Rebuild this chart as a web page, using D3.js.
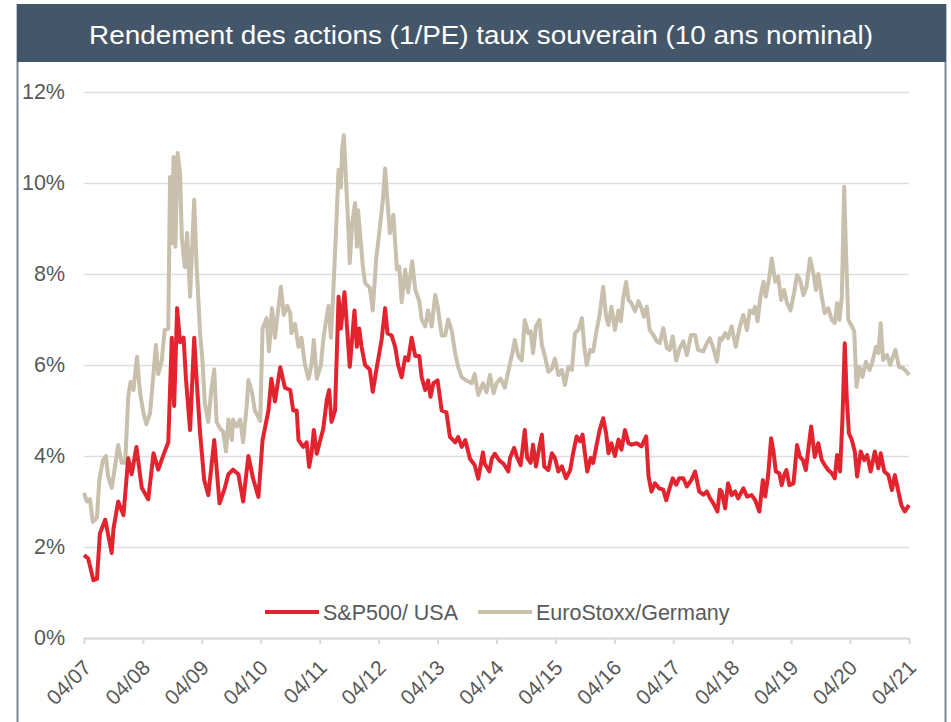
<!DOCTYPE html>
<html>
<head>
<meta charset="utf-8">
<script src="https://cdn.jsdelivr.net/npm/d3@7"></script>
<style>
  body { margin: 0; background: #fff; }
  text { font-family: "Liberation Sans", Arial, sans-serif; }
</style>
</head>
<body>
<div class="chart"></div>
<script>
// chart title and series names
var title = "Rendement des actions (1/PE) taux souverain (10 ans nominal)";
var seriesNames = ["S&P500/ USA", "EuroStoxx/Germany"];

// x ticks (April of each year) and their labels
var tickYears = [2007.25, 2008.25, 2009.25, 2010.25, 2011.25, 2012.25, 2013.25,
  2014.25, 2015.25, 2016.25, 2017.25, 2018.25, 2019.25, 2020.25, 2021.25];
var tickLabels = ["04/07", "04/08", "04/09", "04/10", "04/11", "04/12", "04/13",
  "04/14", "04/15", "04/16", "04/17", "04/18", "04/19", "04/20", "04/21"];
var yTicks = [0, 2, 4, 6, 8, 10, 12];

// S&P500 / USA (decimal year, %)
var spxTime = [2007.25, 2007.32, 2007.41, 2007.47, 2007.52, 2007.61, 2007.72, 2007.75, 2007.83, 2007.92,
  2008.00, 2008.06, 2008.14, 2008.23, 2008.34, 2008.43, 2008.51, 2008.62, 2008.68, 2008.74,
  2008.78, 2008.83, 2008.88, 2008.94, 2008.98, 2009.05, 2009.12, 2009.16, 2009.22, 2009.29,
  2009.36, 2009.46, 2009.55, 2009.64, 2009.70, 2009.78, 2009.87, 2009.95, 2010.04, 2010.12,
  2010.21, 2010.28, 2010.38, 2010.43, 2010.49, 2010.58, 2010.66, 2010.75, 2010.80, 2010.86,
  2010.89, 2010.97, 2011.03, 2011.07, 2011.11, 2011.15, 2011.20, 2011.25, 2011.31, 2011.37,
  2011.41, 2011.45, 2011.51, 2011.57, 2011.61, 2011.67, 2011.72, 2011.76, 2011.84, 2011.88,
  2011.92, 2011.96, 2012.02, 2012.10, 2012.15, 2012.22, 2012.30, 2012.36, 2012.40, 2012.47,
  2012.53, 2012.58, 2012.64, 2012.70, 2012.75, 2012.81, 2012.87, 2012.94, 2012.98, 2013.04,
  2013.09, 2013.13, 2013.18, 2013.25, 2013.32, 2013.40, 2013.46, 2013.55, 2013.60, 2013.66,
  2013.72, 2013.80, 2013.88, 2013.94, 2014.02, 2014.05, 2014.13, 2014.17, 2014.22, 2014.30,
  2014.37, 2014.45, 2014.48, 2014.55, 2014.59, 2014.66, 2014.73, 2014.77, 2014.83, 2014.87,
  2014.92, 2014.98, 2015.02, 2015.06, 2015.13, 2015.19, 2015.24, 2015.30, 2015.36, 2015.43,
  2015.50, 2015.55, 2015.61, 2015.67, 2015.71, 2015.75, 2015.79, 2015.85, 2015.89, 2015.95,
  2016.00, 2016.06, 2016.11, 2016.15, 2016.20, 2016.26, 2016.32, 2016.37, 2016.43, 2016.49,
  2016.54, 2016.63, 2016.71, 2016.79, 2016.83, 2016.88, 2016.94, 2017.01, 2017.08, 2017.13,
  2017.18, 2017.24, 2017.30, 2017.35, 2017.42, 2017.48, 2017.56, 2017.62, 2017.69, 2017.76,
  2017.82, 2017.87, 2017.93, 2018.00, 2018.04, 2018.07, 2018.13, 2018.18, 2018.24, 2018.30,
  2018.35, 2018.44, 2018.50, 2018.58, 2018.64, 2018.71, 2018.77, 2018.81, 2018.86, 2018.91,
  2018.95, 2018.99, 2019.05, 2019.09, 2019.13, 2019.17, 2019.22, 2019.29, 2019.35, 2019.40,
  2019.45, 2019.50, 2019.54, 2019.59, 2019.65, 2019.71, 2019.77, 2019.82, 2019.88, 2019.94,
  2019.99, 2020.03, 2020.08, 2020.12, 2020.16, 2020.19, 2020.23, 2020.28, 2020.33, 2020.37,
  2020.43, 2020.49, 2020.54, 2020.60, 2020.67, 2020.73, 2020.77, 2020.83, 2020.90, 2020.96,
  2021.01, 2021.07, 2021.12, 2021.18, 2021.25];
var spxValues = [1.82, 1.75, 1.27, 1.30, 2.30, 2.60, 1.87, 2.40, 3.00, 2.70,
  3.95, 3.60, 4.20, 3.30, 3.05, 4.06, 3.70, 4.10, 4.30, 6.60,
  5.10, 7.25, 6.50, 6.60, 5.70, 4.57, 6.60, 5.70, 4.50, 3.47,
  3.14, 4.35, 2.96, 3.30, 3.60, 3.70, 3.60, 3.00, 4.00, 3.50,
  3.10, 4.35, 5.00, 5.70, 5.20, 5.95, 5.50, 5.45, 5.00, 5.00,
  4.35, 4.20, 4.30, 3.76, 4.05, 4.57, 4.05, 4.30, 4.60, 5.23,
  5.45, 4.75, 5.00, 7.50, 6.80, 7.60, 6.70, 5.96, 7.20, 6.40,
  6.80, 6.40, 6.00, 5.90, 5.41, 5.96, 6.55, 7.25, 6.70, 6.65,
  6.40, 6.00, 5.73, 6.17, 6.10, 6.60, 6.20, 6.20, 5.73, 5.45,
  5.66, 5.30, 5.60, 5.66, 5.00, 4.96, 4.42, 4.30, 4.42, 4.20,
  4.35, 3.94, 3.80, 3.50, 4.08, 3.83, 3.66, 3.94, 4.05, 3.90,
  3.83, 3.66, 3.96, 4.18, 4.00, 3.80, 4.57, 3.96, 3.85, 4.25,
  3.77, 4.21, 4.47, 3.77, 3.69, 4.06, 3.96, 3.66, 3.77, 3.51,
  3.69, 4.06, 4.43, 4.32, 4.47, 4.06, 3.66, 3.96, 3.85, 4.25,
  4.57, 4.83, 4.50, 4.06, 4.28, 4.00, 4.36, 4.14, 4.57, 4.28,
  4.25, 4.28, 4.21, 4.43, 3.55, 3.22, 3.40, 3.29, 3.26, 3.03,
  3.26, 3.51, 3.37, 3.51, 3.51, 3.33, 3.48, 3.66, 3.22, 3.15,
  3.22, 3.08, 2.96, 2.78, 3.26, 3.22, 2.85, 3.40, 3.14, 3.22,
  3.07, 3.29, 3.11, 3.14, 3.03, 2.78, 3.47, 3.11, 3.58, 4.39,
  4.10, 3.66, 3.62, 3.36, 3.58, 3.69, 3.36, 3.40, 4.24, 3.98,
  3.91, 3.69, 4.13, 4.65, 3.98, 4.28, 3.91, 3.80, 3.69, 3.62,
  3.51, 4.02, 3.66, 4.79, 6.48, 5.37, 4.50, 4.35, 4.10, 3.55,
  4.10, 3.91, 4.02, 3.66, 4.10, 3.73, 4.06, 3.66, 3.58, 3.25,
  3.58, 3.22, 2.92, 2.78, 2.92];

// EuroStoxx / Germany (decimal year, %)
var stoxxTime = [2007.25, 2007.30, 2007.35, 2007.40, 2007.47, 2007.51, 2007.57, 2007.62, 2007.66, 2007.72,
  2007.78, 2007.83, 2007.89, 2007.95, 2008.00, 2008.04, 2008.09, 2008.15, 2008.20, 2008.26,
  2008.31, 2008.37, 2008.43, 2008.47, 2008.51, 2008.57, 2008.62, 2008.68, 2008.71, 2008.74,
  2008.77, 2008.80, 2008.84, 2008.88, 2008.91, 2008.96, 2009.00, 2009.05, 2009.12, 2009.16,
  2009.22, 2009.26, 2009.30, 2009.36, 2009.41, 2009.46, 2009.50, 2009.56, 2009.61, 2009.66,
  2009.70, 2009.76, 2009.78, 2009.84, 2009.90, 2009.95, 2010.01, 2010.04, 2010.10, 2010.15,
  2010.24, 2010.28, 2010.35, 2010.39, 2010.44, 2010.49, 2010.59, 2010.64, 2010.70, 2010.75,
  2010.77, 2010.83, 2010.89, 2010.94, 2011.00, 2011.06, 2011.11, 2011.15, 2011.20, 2011.27,
  2011.31, 2011.36, 2011.40, 2011.44, 2011.48, 2011.53, 2011.57, 2011.61, 2011.63, 2011.66,
  2011.70, 2011.74, 2011.76, 2011.80, 2011.85, 2011.88, 2011.90, 2011.93, 2011.98, 2012.02,
  2012.10, 2012.15, 2012.21, 2012.26, 2012.32, 2012.36, 2012.40, 2012.44, 2012.50, 2012.56,
  2012.60, 2012.64, 2012.70, 2012.75, 2012.82, 2012.87, 2012.94, 2012.98, 2013.04, 2013.09,
  2013.15, 2013.21, 2013.25, 2013.32, 2013.38, 2013.43, 2013.49, 2013.55, 2013.60, 2013.66,
  2013.74, 2013.83, 2013.88, 2013.94, 2014.02, 2014.08, 2014.14, 2014.20, 2014.25, 2014.32,
  2014.39, 2014.48, 2014.52, 2014.56, 2014.62, 2014.68, 2014.73, 2014.79, 2014.83, 2014.87,
  2014.92, 2014.98, 2015.02, 2015.07, 2015.13, 2015.19, 2015.24, 2015.30, 2015.36, 2015.41,
  2015.47, 2015.53, 2015.58, 2015.64, 2015.70, 2015.74, 2015.78, 2015.84, 2015.89, 2015.95,
  2016.00, 2016.06, 2016.11, 2016.15, 2016.20, 2016.26, 2016.32, 2016.36, 2016.40, 2016.45,
  2016.49, 2016.54, 2016.60, 2016.66, 2016.71, 2016.75, 2016.80, 2016.85, 2016.91, 2016.97,
  2017.02, 2017.08, 2017.14, 2017.19, 2017.24, 2017.30, 2017.36, 2017.42, 2017.48, 2017.55,
  2017.62, 2017.67, 2017.76, 2017.82, 2017.87, 2017.93, 2017.99, 2018.04, 2018.07, 2018.13,
  2018.18, 2018.24, 2018.31, 2018.38, 2018.44, 2018.50, 2018.55, 2018.60, 2018.64, 2018.68,
  2018.73, 2018.78, 2018.82, 2018.88, 2018.92, 2018.98, 2019.03, 2019.08, 2019.13, 2019.18,
  2019.24, 2019.30, 2019.35, 2019.40, 2019.46, 2019.51, 2019.57, 2019.63, 2019.67, 2019.71,
  2019.77, 2019.82, 2019.88, 2019.94, 2019.99, 2020.03, 2020.07, 2020.11, 2020.15, 2020.18,
  2020.22, 2020.28, 2020.32, 2020.36, 2020.41, 2020.46, 2020.52, 2020.58, 2020.63, 2020.69,
  2020.73, 2020.77, 2020.81, 2020.88, 2020.93, 2020.97, 2021.02, 2021.08, 2021.15, 2021.21,
  2021.25];
var stoxxValues = [3.19, 3.00, 3.05, 2.55, 2.65, 3.47, 3.90, 4.00, 3.55, 3.30,
  3.80, 4.24, 3.85, 3.85, 5.30, 5.63, 5.45, 6.18, 5.40, 4.94,
  4.70, 4.94, 5.82, 6.44, 5.80, 6.10, 6.77, 6.80, 10.13, 8.68,
  10.57, 8.60, 10.66, 10.20, 8.80, 8.15, 8.90, 7.50, 9.63, 8.20,
  6.70, 6.10, 5.16, 4.75, 5.45, 5.90, 4.75, 4.60, 4.54, 4.10,
  4.80, 4.35, 4.80, 4.65, 4.80, 4.30, 5.08, 5.67, 5.40, 5.00,
  4.77, 6.80, 7.03, 6.30, 7.25, 6.60, 7.72, 7.10, 7.30, 7.14,
  6.70, 6.90, 6.40, 6.60, 6.00, 5.70, 6.00, 6.55, 5.70, 6.00,
  6.55, 7.00, 7.30, 6.60, 7.60, 9.03, 10.29, 9.90, 10.76, 11.05,
  9.96, 8.90, 8.24, 9.10, 9.56, 8.60, 9.40, 8.96, 8.20, 7.80,
  7.70, 7.20, 8.35, 8.90, 9.60, 10.32, 9.60, 8.90, 9.30, 8.10,
  8.16, 7.38, 8.10, 7.60, 8.28, 7.67, 7.40, 7.00, 6.85, 7.20,
  6.85, 7.54, 7.30, 6.65, 6.65, 7.00, 6.75, 6.25, 5.96, 5.73,
  5.66, 5.60, 5.80, 5.34, 5.60, 5.40, 5.78, 5.38, 5.60, 5.70,
  5.50, 6.04, 6.26, 6.55, 6.20, 6.10, 6.99, 6.70, 6.74, 6.26,
  6.85, 6.99, 6.44, 6.20, 5.85, 5.92, 6.14, 5.78, 5.89, 5.56,
  5.96, 5.89, 6.70, 6.77, 7.03, 6.40, 6.00, 6.33, 6.30, 6.77,
  7.10, 7.72, 7.06, 6.88, 7.28, 6.77, 7.20, 6.96, 7.47, 7.83,
  7.43, 7.36, 7.18, 7.40, 7.25, 7.06, 7.28, 6.77, 6.66, 6.52,
  6.48, 6.81, 6.37, 6.33, 6.63, 6.10, 6.37, 6.52, 6.22, 6.66,
  6.66, 6.33, 6.30, 6.48, 6.59, 6.37, 6.07, 6.59, 6.55, 6.70,
  6.59, 6.85, 6.40, 6.85, 7.10, 6.77, 7.20, 7.14, 7.28, 6.96,
  7.50, 7.83, 7.50, 7.94, 8.34, 7.83, 7.94, 7.43, 7.65, 7.36,
  7.20, 7.58, 7.98, 7.87, 7.54, 7.72, 8.34, 8.00, 7.65, 8.00,
  7.50, 7.14, 7.25, 6.99, 6.92, 7.36, 6.99, 7.50, 9.92, 8.52,
  6.99, 6.85, 6.74, 5.52, 5.96, 5.74, 6.07, 5.89, 6.07, 6.40,
  6.26, 6.92, 6.11, 6.22, 6.00, 6.15, 6.33, 5.96, 5.93, 5.85,
  5.78];

var svgWidth = 951;
var svgHeight = 722;

// plot area edges
var plotLeft = 84, plotRight = 909, plotTop = 92, plotBottom = 638;

var svg = d3.select(".chart")
  .append("svg")
  .attr("width", svgWidth)
  .attr("height", svgHeight);

// frame lines left / right
svg.append("line")
  .attr("x1", 17.5).attr("x2", 17.5).attr("y1", 4).attr("y2", svgHeight)
  .attr("stroke", "#7b8794").attr("stroke-width", 2);
svg.append("line")
  .attr("x1", 945.5).attr("x2", 945.5).attr("y1", 4).attr("y2", svgHeight)
  .attr("stroke", "#7b8794").attr("stroke-width", 2);

// title bar
svg.append("rect")
  .attr("x", 17).attr("y", 4)
  .attr("width", 929).attr("height", 58)
  .attr("fill", "#44576a");
svg.append("text")
  .attr("x", 89).attr("y", 44)
  .attr("textLength", 784)
  .attr("lengthAdjust", "spacingAndGlyphs")
  .style("font-size", "25px")
  .attr("fill", "#ffffff")
  .text(title);

// scales
var xScale = d3.scaleLinear().domain([2007.25, 2021.25]).range([plotLeft, plotRight]);
var yScale = d3.scaleLinear().domain([0, 12]).range([plotBottom, plotTop]);

// y axis + gridlines
var yAxis = d3.axisLeft(yScale)
  .tickValues(yTicks)
  .tickSize(-(plotRight - plotLeft))
  .tickPadding(19)
  .tickFormat(d => d + "%");

var yGroup = svg.append("g")
  .attr("transform", `translate(${plotLeft}, 0)`)
  .call(yAxis);
yGroup.select(".domain").remove();
yGroup.selectAll(".tick line")
  .attr("stroke", "#dedede")
  .attr("stroke-width", 1.5);
yGroup.selectAll(".tick text")
  .style("font-size", "21.5px")
  .attr("fill", "#595959");

// x axis
var xAxis = d3.axisBottom(xScale)
  .tickValues(tickYears)
  .tickSize(6)
  .tickSizeOuter(0)
  .tickFormat((d, i) => tickLabels[i]);

var xGroup = svg.append("g")
  .attr("transform", `translate(0, ${plotBottom})`)
  .call(xAxis);
xGroup.select(".domain")
  .attr("stroke", "#d9d9d9")
  .attr("stroke-width", 2);
xGroup.selectAll(".tick line")
  .attr("stroke", "#d9d9d9")
  .attr("stroke-width", 2);
xGroup.selectAll(".tick text")
  .style("font-size", "21px")
  .attr("fill", "#595959")
  .attr("text-anchor", "end")
  .attr("dy", 0)
  .attr("y", 0)
  .attr("transform", "translate(8, 31) rotate(-45)");

// lines
var line = d3.line()
  .x(d => xScale(d[0]))
  .y(d => yScale(d[1]));

var stoxxData = stoxxTime.map((t, i) => [t, stoxxValues[i]]);
var spxData = spxTime.map((t, i) => [t, spxValues[i]]);

svg.append("path")
  .datum(stoxxData)
  .attr("d", line)
  .attr("fill", "none")
  .attr("stroke", "#c8bfad")
  .attr("stroke-width", 4)
  .attr("stroke-linejoin", "round");

svg.append("path")
  .datum(spxData)
  .attr("d", line)
  .attr("fill", "none")
  .attr("stroke", "#e3242f")
  .attr("stroke-width", 4)
  .attr("stroke-linejoin", "round");

// legend
var legend = [
  { name: seriesNames[0], color: "#e3242f", x: 265 },
  { name: seriesNames[1], color: "#c8bfad", x: 478 }
];
legend.forEach(function(l) {
  svg.append("line")
    .attr("x1", l.x).attr("x2", l.x + 54)
    .attr("y1", 612).attr("y2", 612)
    .attr("stroke", l.color)
    .attr("stroke-width", 4);
  svg.append("text")
    .attr("x", l.x + 58).attr("y", 619.5)
    .style("font-size", "21.5px")
    .attr("fill", "#595959")
    .text(l.name);
});
</script>
</body>
</html>
